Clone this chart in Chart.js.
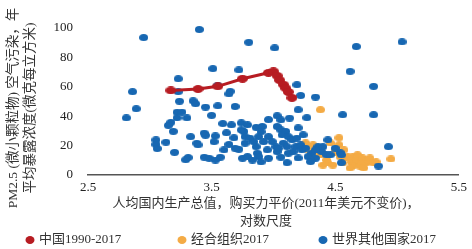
<!DOCTYPE html>
<html>
<head>
<meta charset="utf-8">
<script src="https://cdn.jsdelivr.net/npm/chart.js@4.4.1/dist/chart.umd.min.js"></script>
<style>
  html, body { margin: 0; padding: 0; background: #fff; }
</style>
</head>
<body>
<canvas id="pmChart" width="472" height="249"></canvas>
<script>
const xTicks = [2.5, 3.5, 4.5, 5.5];

const chinaYears = [1990, 1995, 2000, 2005, 2010, 2011, 2012, 2013, 2014, 2015, 2016, 2017];
const chinaGdp = [3.17, 3.39, 3.55, 3.75, 3.96, 4.00, 4.03, 4.05, 4.08, 4.10, 4.12, 4.15];
const chinaPm = [57.5, 58.5, 60.3, 65.5, 69.5, 70.5, 67.5, 64.5, 61.5, 59.0, 56.5, 52.5];

const oecdGdp = [4.38, 4.26, 4.32, 4.28, 4.35, 4.38, 4.43, 4.46, 4.50, 4.53, 4.53, 4.51, 4.54, 4.56, 4.59, 4.60, 4.63, 4.64,
  4.67, 4.68, 4.71, 4.72, 4.75, 4.77, 4.78, 4.81, 4.83, 4.95, 4.44, 4.48, 4.57, 4.65, 4.70, 4.73, 4.62, 4.40];
const oecdPm = [44.4, 21.8, 20.5, 17.1, 15.7, 13.7, 10.2, 21.8, 17.1, 25.3, 20.5, 15.0, 12.3, 8.2, 11.6, 12.3, 8.9, 12.3,
  10.2, 13.7, 8.2, 11.6, 8.2, 10.2, 11.6, 8.2, 8.9, 10.9, 8.2, 6.8, 17.1, 6.8, 6.1, 4.8, 4.8, 6.8];

const worldGdp = [
  2.95, 2.86, 2.89, 2.81, 3.23, 3.23, 3.24, 3.35, 3.22, 3.26, 3.22, 3.30, 3.17, 3.15, 3.19, 3.05, 3.13, 3.05, 3.06, 3.33,
  3.20, 3.31, 3.29, 3.38,
  3.40, 3.80, 4.01, 3.51, 3.72, 3.55, 3.65, 3.64, 3.37, 3.45, 3.55, 3.69, 3.50, 3.59, 3.66, 3.74, 3.79, 3.86, 3.91, 3.96,
  4.03, 4.06, 4.03, 4.13, 4.27, 4.19, 4.22, 4.34, 4.20, 4.56, 4.81, 4.62, 4.81, 4.67, 5.04,
  3.44, 3.45, 3.53, 3.52, 3.64, 3.39, 3.72, 3.76, 3.77, 3.77, 3.81, 3.84, 3.86, 3.88, 3.92, 3.95, 3.96, 3.99, 4.02, 3.44,
  3.48, 3.53, 3.57, 3.75, 3.79, 3.87, 3.88, 3.96, 4.03, 3.69, 3.74,
  4.06, 4.10, 4.07, 4.12, 4.15, 4.19, 4.08, 4.11, 4.04, 4.18, 4.22, 4.23, 4.12, 4.16, 4.06, 4.11, 4.31, 4.28, 4.36, 4.39,
  4.40, 4.44, 4.50, 4.34, 4.30, 4.43, 4.46, 4.54, 4.55, 4.55, 4.26, 4.36, 4.34, 4.93, 4.85,
  3.90, 3.62, 3.68, 4.20, 4.24, 3.60, 4.20, 3.90, 3.83
];
const worldPm = [
  93.5, 56.7, 45.1, 38.9, 65.5, 56.7, 50.2, 50.5, 42.7, 42.8, 38.9, 38.9, 35.8, 33.8, 29.7, 23.9, 22.3, 20.8, 18.0, 26.1,
  15.4, 11.9, 10.4, 21.6,
  99.0, 90.3, 86.5, 72.4, 71.5, 61.0, 56.9, 55.2, 48.5, 46.2, 47.1, 46.6, 40.6, 35.0, 34.1, 35.5, 34.1, 32.4, 33.0, 37.7,
  40.3, 37.5, 33.0, 38.7, 39.0, 61.4, 54.1, 53.0, 44.4, 41.0, 41.0, 70.5, 60.3, 87.4, 90.6,
  28.5, 27.0, 26.6, 22.7, 20.8, 20.5, 17.5, 29.6, 26.1, 21.6, 25.1, 22.7, 19.3, 26.1, 22.7, 17.1, 26.1, 22.7, 19.3, 12.1,
  11.4, 10.2, 12.1, 11.4, 12.5, 14.8, 12.5, 11.4, 15.9, 18.2, 30.7,
  30.7, 29.6, 27.3, 26.1, 23.9, 25.1, 21.6, 19.3, 18.2, 19.3, 20.5, 17.1, 14.8, 15.9, 12.1, 8.4, 14.8, 12.5, 17.1, 15.9,
  19.3, 23.9, 18.2, 11.4, 9.1, 13.7, 13.7, 15.2, 13.7, 8.4, 18.2, 19.3, 17.1, 19.3, 6.1,
  29.4, 28.7, 25.3, 32.1, 27.3, 17.1, 11.6, 8.9, 10.2
];

const seriesLabels = ['中国1990-2017', '经合组织2017', '世界其他国家2017'];
const colors = { china: '#b71c22', oecd: '#f4ab45', world: '#1767b2' };
const fontStack = "'Liberation Serif', 'Noto Sans CJK SC', serif";
const textColor = '#333';

const yTitleLines = ['PM2.5 (微小颗粒物) 空气污染，年', '平均暴露浓度(微克每立方米)'];
const xTitleLines = ['人均国内生产总值，购买力平价(2011年美元不变价)，', '对数尺度'];

// slightly flattened dots, like the source picture
function makeDot(color, w, h) {
  const c = document.createElement('canvas');
  c.width = w;
  c.height = h;
  const g = c.getContext('2d');
  g.fillStyle = color;
  g.beginPath();
  g.ellipse(w / 2, h / 2, w / 2, h / 2, 0, 0, Math.PI * 2);
  g.fill();
  return c;
}

function toPoints(xs, ys) {
  return xs.map((x, i) => ({ x: x, y: ys[i] }));
}

const textPlugin = {
  id: 'textPlugin',
  afterDraw(chart) {
    const ctx = chart.ctx;
    ctx.save();
    ctx.fillStyle = textColor;
    ctx.font = `13.5px ${fontStack}`;
    ctx.textAlign = 'center';
    ctx.textBaseline = 'middle';

    // y title, rotated
    ctx.save();
    ctx.translate(0, 108);
    ctx.rotate(-Math.PI / 2);
    ctx.fillText(yTitleLines[0], 0, 13);
    ctx.fillText(yTitleLines[1], 0, 30);
    ctx.restore();

    ctx.font = `13px ${fontStack}`;
    ctx.fillText(xTitleLines[0], 266, 204);
    ctx.fillText(xTitleLines[1], 266, 222);

    // legend
    const legendX = [30, 182, 323];
    const legendColors = [colors.china, colors.oecd, colors.world];
    ctx.textAlign = 'left';
    seriesLabels.forEach((label, i) => {
      ctx.fillStyle = legendColors[i];
      ctx.beginPath();
      ctx.ellipse(legendX[i], 240, 4.5, 4, 0, 0, Math.PI * 2);
      ctx.fill();
      ctx.fillStyle = textColor;
      ctx.fillText(label, legendX[i] + 9, 240);
    });
    ctx.restore();
  }
};

const ctx = document.getElementById('pmChart').getContext('2d');

const pmChart = new Chart(ctx, {
  type: 'scatter',
  data: {
    datasets: [
      {
        label: seriesLabels[0],
        data: toPoints(chinaGdp, chinaPm),
        showLine: true,
        borderColor: colors.china,
        backgroundColor: colors.china,
        borderWidth: 3,
        pointStyle: makeDot(colors.china, 11, 8),
        pointRadius: 5,
        clip: false,
        order: 0
      },
      {
        label: seriesLabels[2],
        data: toPoints(worldGdp, worldPm),
        backgroundColor: colors.world,
        pointStyle: makeDot(colors.world, 9, 7),
        pointRadius: 4,
        clip: false,
        order: 1
      },
      {
        label: seriesLabels[1],
        data: toPoints(oecdGdp, oecdPm),
        backgroundColor: colors.oecd,
        pointStyle: makeDot(colors.oecd, 9, 7),
        pointRadius: 4,
        clip: false,
        order: 2
      }
    ]
  },
  options: {
    responsive: false,
    animation: false,
    events: [],
    layout: { padding: { top: 28, right: 12, bottom: 0, left: 0 } },
    plugins: {
      legend: { display: false },
      tooltip: { enabled: false }
    },
    scales: {
      x: {
        type: 'linear',
        min: 2.5,
        max: 5.5,
        afterBuildTicks: scale => { scale.ticks = xTicks.map(v => ({ value: v })); },
        afterFit: scale => { scale.height = 74; },
        grid: { display: false, drawTicks: false },
        border: { display: true, color: '#555', width: 1.5 },
        ticks: {
          padding: 5,
          color: '#222',
          font: { family: fontStack, size: 13 },
          callback: v => v.toFixed(1)
        }
      },
      y: {
        min: 0,
        max: 100,
        afterFit: scale => { scale.width = 88; },
        grid: { display: false, drawTicks: false },
        border: { display: false },
        ticks: {
          stepSize: 20,
          padding: 15,
          color: '#222',
          font: { family: fontStack, size: 13 }
        }
      }
    }
  },
  plugins: [textPlugin]
});
</script>
</body>
</html>
